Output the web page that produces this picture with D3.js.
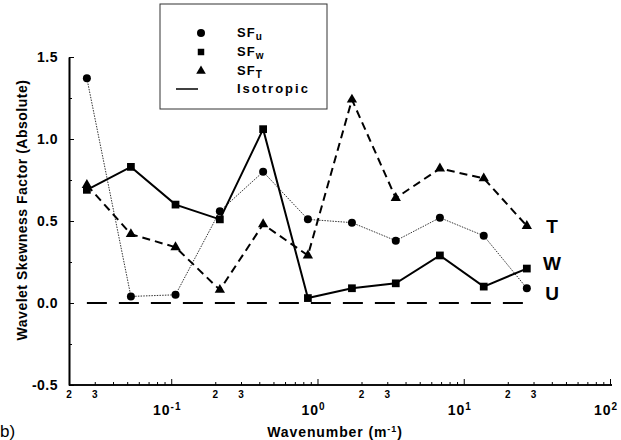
<!DOCTYPE html>
<html>
<head>
<meta charset="utf-8">
<script src="https://cdn.jsdelivr.net/npm/d3@7"></script>
<style>
    body { margin: 0; background: #fff; }
    svg text { font-family: "Liberation Sans", Arial, sans-serif; font-weight: bold; fill: #000; }
</style>
</head>
<body>
<div id="chart"></div>
<script>
/*jshint esversion: 6 */

// wavenumber (m-1) of each point
const wavenumber = [0.0265, 0.053, 0.107, 0.215, 0.425, 0.86, 1.72, 3.43, 6.87, 13.7, 27.0];
// wavelet skewness factor (absolute)
const sfU = [1.37, 0.04, 0.05, 0.56, 0.80, 0.51, 0.49, 0.38, 0.52, 0.41, 0.09];
const sfW = [0.69, 0.83, 0.60, 0.51, 1.06, 0.03, 0.09, 0.12, 0.29, 0.10, 0.21];
const sfT = [0.72, 0.42, 0.34, 0.08, 0.48, 0.29, 1.24, 0.64, 0.82, 0.76, 0.47];
const isotropic = [0, 0, 0, 0, 0, 0, 0, 0, 0, 0, 0];

const yTicks = [-0.5, 0.0, 0.5, 1.0, 1.5];
const yMinorTicks = [-0.25, 0.25, 0.75, 1.25];
const xDecades = [0.1, 1, 10, 100];
const xDecadeExp = ["-1", "0", "1", "2"];
const xMinorLabels = [0.02, 0.03, 0.2, 0.3, 2, 3, 20, 30];
const endLabels = ["T", "W", "U"];

(function () {

    let width = 621, height = 440;

    let svg = d3.select("#chart").append("svg")
        .attr("width", width)
        .attr("height", height);

    let x = d3.scaleLog().domain([0.02, 100]).range([69, 610]);
    let y = d3.scaleLinear().domain([-0.5, 1.5]).range([385, 57]);

    // minor ticks 2..9 in every decade
    let xMinor = [];
    [0.01, 0.1, 1, 10].forEach(function (d) {
        for (let k = 2; k <= 9; k++) {
            let v = d * k;
            if (v >= 0.02 && v < 100) xMinor.push(v);
        }
    });

    let xAxis = svg.append("g")
        .attr("transform", "translate(0," + y.range()[0] + ")");
    xAxis.append("g")
        .call(d3.axisBottom(x).tickValues(xMinor).tickSize(-3).tickSizeOuter(0).tickFormat(""));
    xAxis.append("g")
        .call(d3.axisBottom(x).tickValues(xDecades).tickSize(-6).tickSizeOuter(0).tickFormat(""));
    xAxis.selectAll("path.domain")
        .attr("d", "M" + x.range()[0] + ",0H612");

    let yAxis = svg.append("g")
        .attr("transform", "translate(" + x.range()[0] + ",0)");
    yAxis.append("g")
        .call(d3.axisLeft(y).tickValues(yMinorTicks).tickSize(-3).tickSizeOuter(0).tickFormat(""));
    yAxis.append("g")
        .call(d3.axisLeft(y).tickValues(yTicks).tickSize(-5).tickSizeOuter(0).tickFormat(""));

    svg.selectAll(".domain").attr("stroke", "#000").attr("stroke-width", 1.6);
    svg.selectAll(".tick line").attr("stroke", "#000").attr("stroke-width", 1);

    // y tick labels
    svg.append("g").selectAll("text")
        .data(yTicks)
        .enter().append("text")
        .attr("x", 58)
        .attr("y", function (d) { return y(d) + 5; })
        .attr("text-anchor", "end")
        .style("font-size", "14px")
        .style("letter-spacing", "0.5px")
        .text(function (d) { return d.toFixed(1); });

    // x decade labels 10^n
    let dec = svg.append("g").selectAll("text")
        .data(xDecades)
        .enter().append("text")
        .attr("x", function (d) { return x(d) - 4; })
        .attr("y", 415)
        .attr("text-anchor", "middle")
        .style("font-size", "14px")
        .style("letter-spacing", "1px");
    dec.append("tspan").text("10");
    dec.append("tspan")
        .attr("dy", -5)
        .style("font-size", "10px")
        .text(function (d, i) { return xDecadeExp[i]; });

    svg.append("g").selectAll("text")
        .data(xMinorLabels)
        .enter().append("text")
        .attr("x", function (d) { return x(d); })
        .attr("y", 398)
        .attr("text-anchor", "middle")
        .style("font-size", "10px")
        .text(function (d) { return String(d).replace(/0*\.0*/, "").charAt(0); });

    // axis titles
    let xt = svg.append("text")
        .attr("x", 335)
        .attr("y", 437)
        .attr("text-anchor", "middle")
        .style("font-size", "14px")
        .style("letter-spacing", "0.9px");
    xt.append("tspan").text("Wavenumber (m");
    xt.append("tspan").attr("dy", -5).style("font-size", "9px").text("-1");
    xt.append("tspan").attr("dy", 5).text(")");

    svg.append("text")
        .attr("transform", "translate(27,210) rotate(-90)")
        .attr("text-anchor", "middle")
        .style("font-size", "14px")
        .style("letter-spacing", "0.5px")
        .text("Wavelet Skewness Factor (Absolute)");

    svg.append("text")
        .attr("x", 0)
        .attr("y", 437)
        .style("font-size", "17px")
        .style("font-weight", "normal")
        .text("b)");

    // lines
    let line = d3.line()
        .x(function (d) { return x(d[0]); })
        .y(function (d) { return y(d[1]); });

    function pairs(vals) {
        return wavenumber.map(function (w, i) { return [w, vals[i]]; });
    }

    svg.append("path")
        .datum(pairs(isotropic))
        .attr("d", line)
        .attr("fill", "none")
        .attr("stroke", "#000")
        .attr("stroke-width", 2)
        .attr("stroke-dasharray", "20,12");

    svg.append("path")
        .datum(pairs(sfU))
        .attr("d", line)
        .attr("fill", "none")
        .attr("stroke", "#333")
        .attr("stroke-width", 1)
        .attr("stroke-dasharray", "1.5,1.2");

    svg.append("path")
        .datum(pairs(sfW))
        .attr("d", line)
        .attr("fill", "none")
        .attr("stroke", "#000")
        .attr("stroke-width", 2);

    svg.append("path")
        .datum(pairs(sfT))
        .attr("d", line)
        .attr("fill", "none")
        .attr("stroke", "#000")
        .attr("stroke-width", 2)
        .attr("stroke-dasharray", "8,5");

    // markers
    svg.append("g").selectAll("circle")
        .data(pairs(sfU))
        .enter().append("circle")
        .attr("cx", function (d) { return x(d[0]); })
        .attr("cy", function (d) { return y(d[1]); })
        .attr("r", 4)
        .attr("fill", "#000");

    svg.append("g").selectAll("path")
        .data(pairs(sfW))
        .enter().append("path")
        .attr("d", d3.symbol().type(d3.symbolSquare).size(60))
        .attr("transform", function (d) { return "translate(" + x(d[0]) + "," + y(d[1]) + ")"; })
        .attr("fill", "#000");

    svg.append("g").selectAll("path")
        .data(pairs(sfT))
        .enter().append("path")
        .attr("d", d3.symbol().type(d3.symbolTriangle).size(46))
        .attr("transform", function (d) { return "translate(" + x(d[0]) + "," + y(d[1]) + ")"; })
        .attr("fill", "#000");

    // end labels next to last points (nudged apart like the original)
    let lastVals = [sfT[10], sfW[10], sfU[10]];
    let nudge = [0, -6, 5];
    svg.append("g").selectAll("text")
        .data(endLabels)
        .enter().append("text")
        .attr("x", 552)
        .attr("y", function (d, i) { return y(lastVals[i]) + 7 + nudge[i]; })
        .attr("text-anchor", "middle")
        .style("font-size", "19px")
        .text(function (d) { return d; });

    // legend
    let lg = svg.append("g");
    lg.append("rect")
        .attr("x", 160).attr("y", 4)
        .attr("width", 167).attr("height", 105)
        .attr("fill", "#fff")
        .attr("stroke", "#333")
        .attr("stroke-width", 1);

    lg.append("circle").attr("cx", 201).attr("cy", 33).attr("r", 4).attr("fill", "#000");
    lg.append("path")
        .attr("d", d3.symbol().type(d3.symbolSquare).size(42))
        .attr("transform", "translate(201,52)");
    lg.append("path")
        .attr("d", d3.symbol().type(d3.symbolTriangle).size(40))
        .attr("transform", "translate(201,71)");
    lg.append("line")
        .attr("x1", 176).attr("x2", 198)
        .attr("y1", 89).attr("y2", 89)
        .attr("stroke", "#000").attr("stroke-width", 1.5);

    let legendRows = [["SF", "u", 37], ["SF", "w", 56], ["SF", "T", 75]];
    legendRows.forEach(function (r) {
        let t = lg.append("text")
            .attr("x", 237).attr("y", r[2])
            .style("font-size", "13px")
            .style("letter-spacing", "1px");
        t.append("tspan").text(r[0]);
        t.append("tspan").attr("dy", 3).style("font-size", "10px").text(r[1]);
    });
    lg.append("text")
        .attr("x", 237).attr("y", 93)
        .style("font-size", "13px")
        .style("letter-spacing", "2px")
        .text("Isotropic");

})();
</script>
</body>
</html>
